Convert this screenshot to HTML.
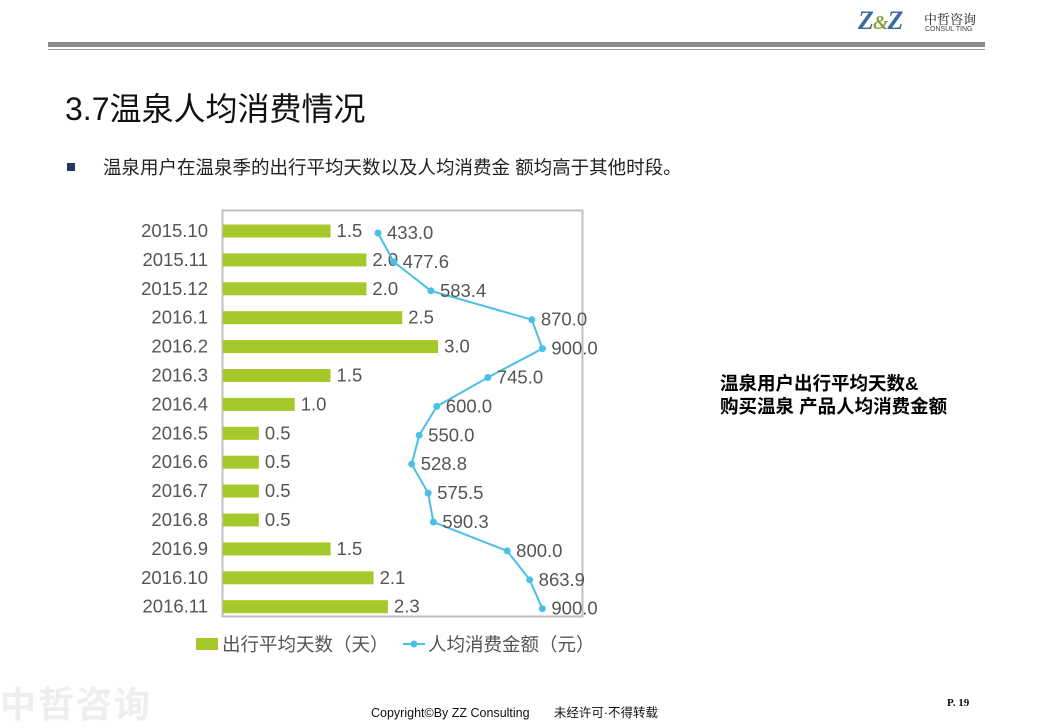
<!DOCTYPE html>
<html><head><meta charset="utf-8"><style>
body{margin:0;width:1040px;height:720px;background:#fff;position:relative;overflow:hidden;font-family:"Liberation Sans","Noto Sans CJK SC",sans-serif}
.a{position:absolute;white-space:nowrap}
</style></head><body>
<div class="a" style="left:48px;top:42px;width:937px;height:5px;background:#8a8a8a"></div>
<div class="a" style="left:48px;top:49px;width:937px;height:1px;background:#999"></div>
<div class="a" style="left:858px;top:6px;font:bold italic 26px 'Liberation Serif',serif;color:#3a6a9a;letter-spacing:-1px">Z<span style="color:#8aa040;font-size:20px">&amp;</span>Z</div>
<div class="a" style="left:924px;top:9px;font-size:13px;color:#222;font-family:'Noto Serif CJK SC',serif">中哲咨询</div>
<div class="a" style="left:925px;top:26px;font-size:7px;color:#444">CONSUL TING</div>
<div class="a" style="left:65px;top:84px;font-size:32px;color:#111">3.7温泉人均消费情况</div>
<div class="a" style="left:67px;top:163px;width:8px;height:8px;background:#1f3864"></div>
<div class="a" style="left:103px;top:154px;font-size:18.5px;color:#222">温泉用户在温泉季的出行平均天数以及人均消费金 额均高于其他时段。</div>
<div class="a" style="left:720px;top:372px;font-size:18.5px;font-weight:bold;color:#000;line-height:23px">温泉用户出行平均天数&amp;<br>购买温泉 产品人均消费金额</div>
<svg class="a" style="left:0;top:0" width="1040" height="720">
<rect x="222.5" y="210.5" width="360" height="406" fill="none" stroke="#bfbfbf" stroke-width="2"/>
<g id="c" font-family="Liberation Sans, sans-serif" font-size="18.5" fill="#555"></g>
</svg>
<div class="a" style="left:0;top:676px;font-size:36px;color:#eee;font-weight:bold;letter-spacing:2px">中哲咨询</div>
<div class="a" style="left:371px;top:702px;font-size:12.5px;color:#111">Copyright©By  ZZ Consulting &nbsp;&nbsp;&nbsp;&nbsp;&nbsp;&nbsp;未经许可·不得转载</div>
<div class="a" style="left:947px;top:697px;font:bold 11px 'Liberation Serif',serif;color:#111">P. 19</div>
<script>
var L=["2015.10","2015.11","2015.12","2016.1","2016.2","2016.3","2016.4","2016.5","2016.6","2016.7","2016.8","2016.9","2016.10","2016.11"];
var D=[1.5,2.0,2.0,2.5,3.0,1.5,1.0,0.5,0.5,0.5,0.5,1.5,2.1,2.3];
var M=[433.0,477.6,583.4,870.0,900.0,745.0,600.0,550.0,528.8,575.5,590.3,800.0,863.9,900.0];
var s="",pts=[];
for(var i=0;i<14;i++){var y=231+i*28.9;var w=D[i]*71.7;
s+='<text x="208" y="'+(y+6)+'" text-anchor="end">'+L[i]+'</text>';
s+='<rect x="223" y="'+(y-6.5)+'" width="'+w+'" height="13" fill="#a5c92a"/>';
s+='<text x="'+(223+w+6)+'" y="'+(y+6)+'">'+D[i].toFixed(1)+'</text>';
var x=378+(M[i]-433)*0.352;pts.push([x,y+2]);}
s+='<polyline fill="none" stroke="#4cbfe6" stroke-width="2" points="'+pts.map(p=>p.join(",")).join(" ")+'"/>';
pts.forEach(function(p,i){s+='<circle cx="'+p[0]+'" cy="'+p[1]+'" r="3.5" fill="#4cbfe6"/><text x="'+(p[0]+9)+'" y="'+(p[1]+6)+'">'+M[i].toFixed(1)+'</text>';});
s+='<rect x="196" y="638" width="22" height="12" fill="#a5c92a"/><text x="222" y="651">出行平均天数（天）</text>';
s+='<line x1="403" y1="644" x2="425" y2="644" stroke="#4cbfe6" stroke-width="2"/><circle cx="414" cy="644" r="3.5" fill="#4cbfe6"/><text x="428" y="651">人均消费金额（元）</text>';
var g=document.getElementById("c");g.innerHTML=s;g.setAttribute("font-family","Liberation Sans, Noto Sans CJK SC, sans-serif");
</script>
</body></html>
